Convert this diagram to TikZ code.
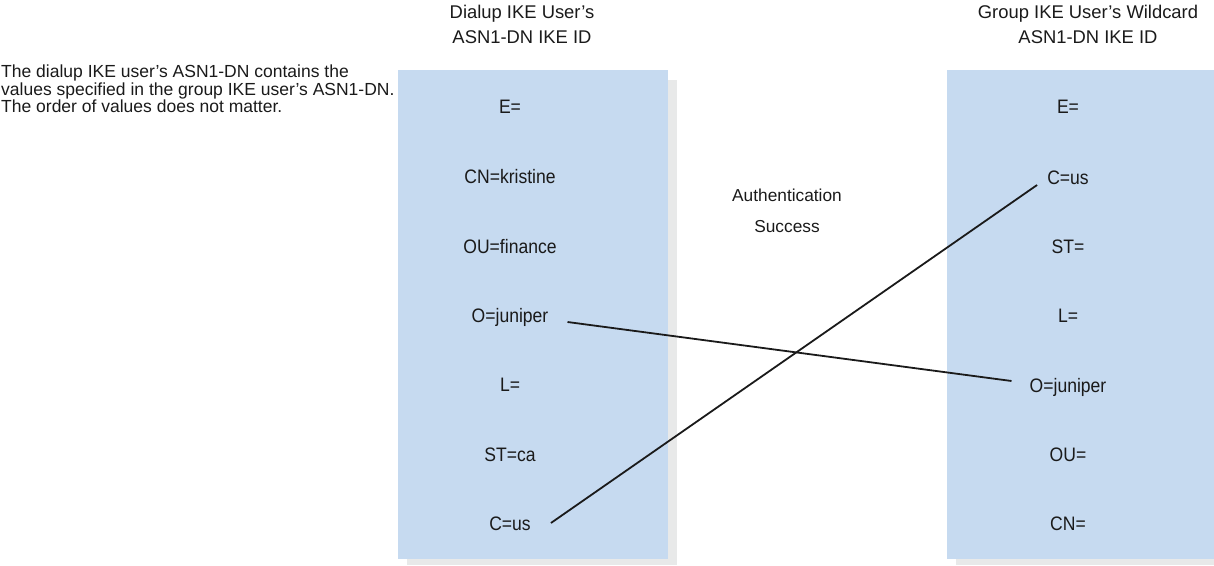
\documentclass[tikz,border=0pt]{standalone}
\usepackage{fontspec}
\setmainfont{Liberation Sans}
\newfontfamily\itemfont{Liberation Sans}[FakeStretch=0.9]
\usetikzlibrary{calc}
\definecolor{boxblue}{RGB}{198,218,240}
\definecolor{shadowgrey}{RGB}{232,233,233}
\definecolor{ink}{RGB}{26,26,26}
\tikzset{
  panel/.style={fill=boxblue, draw=none},
  shade/.style={fill=shadowgrey, draw=none},
  item/.style={inner sep=0pt, anchor=base, text=ink, font=\itemfont\fontsize{19.5}{19.5}\selectfont},
  title/.style={inner sep=0pt, anchor=north, align=center, text=ink, font=\fontsize{18.4}{25}\selectfont},
  auth/.style={inner sep=0pt, anchor=north, align=center, text=ink, font=\fontsize{17.3}{31}\selectfont},
  note/.style={inner sep=0pt, anchor=north west, align=left, text=ink, font=\fontsize{17.5}{15}\selectfont},
  link/.style={draw=ink, line width=1.8pt},
}
\begin{document}
\begin{tikzpicture}[x=1pt,y=-1pt]
\useasboundingbox (0,0) rectangle (1214,565);
% shadows and panels
\fill[shade] (407,80) rectangle (677,565);
\fill[panel] (398,70) rectangle (668,559);
\fill[shade] (956,80) rectangle (1214,565);
\fill[panel] (947,70) rectangle (1214,559);
% titles
\node[title] (tl) at (522,5) {Dialup IKE User's\\ASN1-DN IKE ID};
\node[title] (tr) at (1088,5) {Group IKE User's Wildcard\\ASN1-DN IKE ID};
\node[note] (nt) at (1,65) {The dialup IKE user's ASN1-DN contains the\\values specified in the group IKE user's ASN1-DN.\\The order of values does not matter.};
\node[auth] (au) at (787,189) {Authentication\\Success};
% left items
\node[item] (lE) at (510,113) {E=};
\node[item] (lCN) at (510,183) {CN=kristine};
\node[item] (lOU) at (510,253) {OU=finance};
\node[item] (lO) at (510,322) {O=juniper};
\node[item] (lL) at (510,391) {L=};
\node[item] (lST) at (510,461) {ST=ca};
\node[item] (lC) at (510,530) {C=us};
% right items
\node[item] (rE) at (1068,113) {E=};
\node[item] (rC) at (1068,184) {C=us};
\node[item] (rST) at (1068,253) {ST=};
\node[item] (rL) at (1068,322) {L=};
\node[item] (rO) at (1068,392) {O=juniper};
\node[item] (rOU) at (1068,461) {OU=};
\node[item] (rCN) at (1068,530) {CN=};
% connectors
\draw[link] ($(lO.base east)+(19,0)$) -- ($(rO.base west)+(-18,-11)$);
\draw[link] ($(lC.base east)+(20,-7)$) -- ($(rC.base west)+(-10,1)$);
\end{tikzpicture}
\end{document}
